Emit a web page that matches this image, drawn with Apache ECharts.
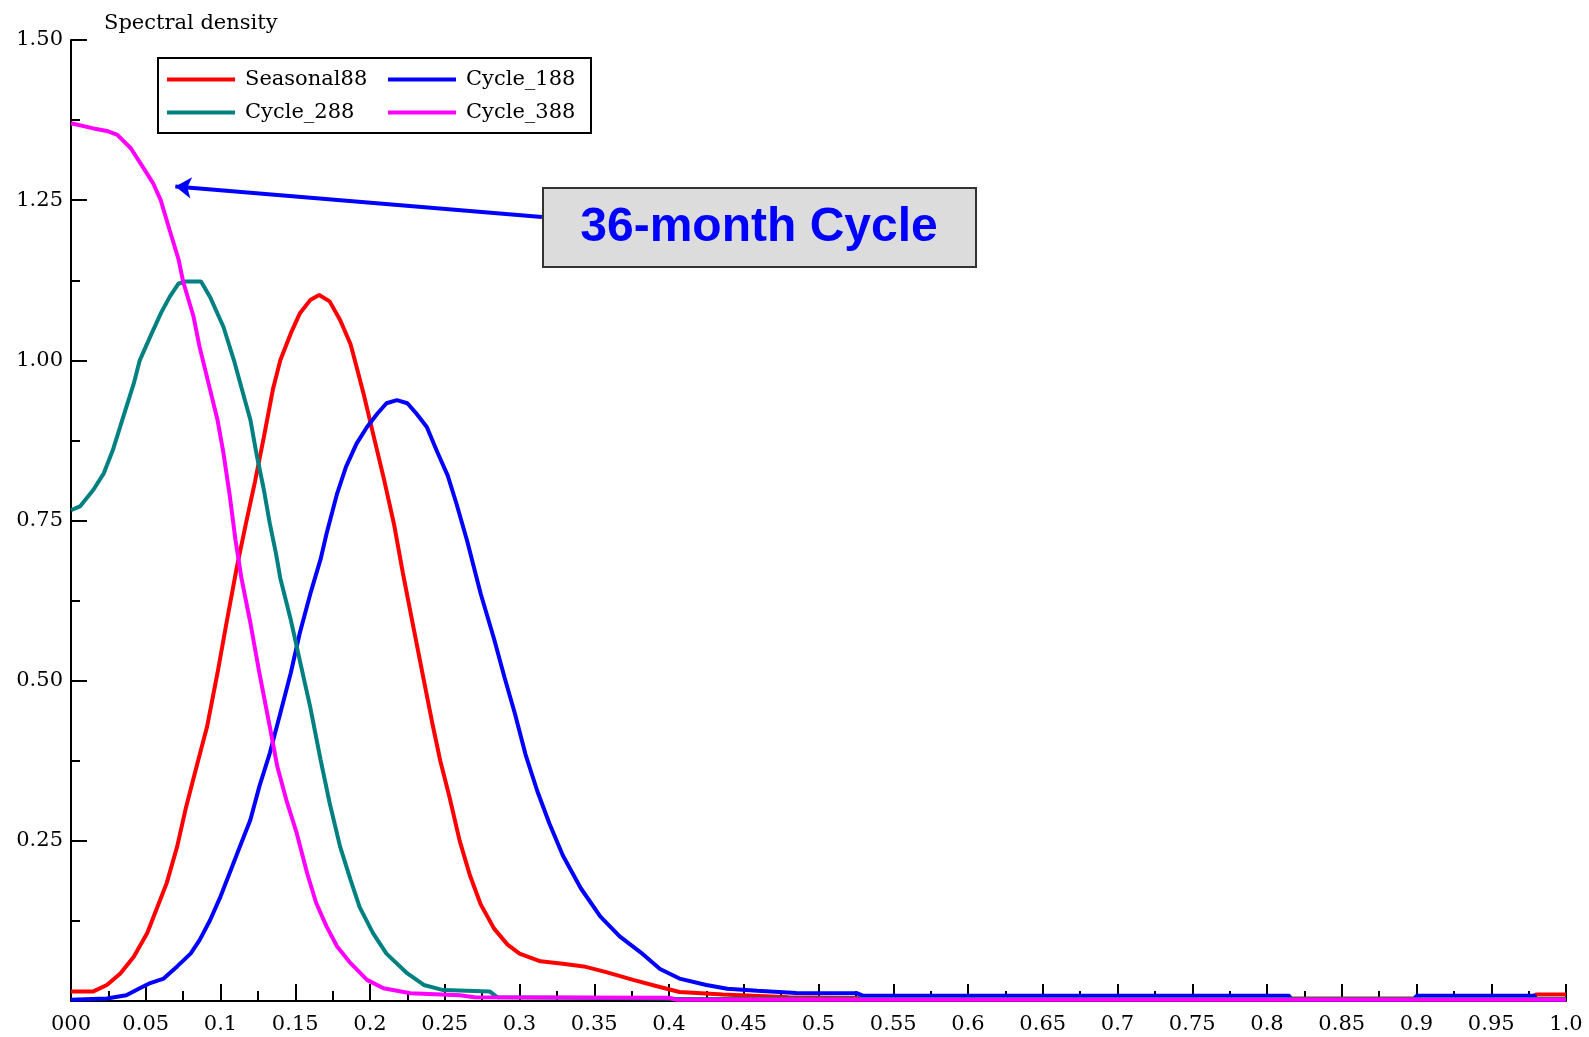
<!DOCTYPE html>
<html>
<head>
<meta charset="utf-8">
<script src="https://cdn.jsdelivr.net/npm/echarts@6/dist/echarts.min.js"></script>
<style>html,body{margin:0;padding:0;background:#fff}#c{width:1589px;height:1037px}</style>
</head>
<body>
<div id="c"></div>
<script>
var seriesNames = ['Seasonal88', 'Cycle_188', 'Cycle_288', 'Cycle_388'];
var seriesColors = ['#ff0000', '#0000ff', '#008080', '#ff00ff'];

var seasonal88 = [[0,.015],[.015,.015],[.024,.025],[.033,.043],[.042,.069],[.051,.106],[.057,.142],[.064,.184],[.071,.241],[.077,.303],[.084,.366],[.091,.428],[.098,.512],[.104,.59],[.111,.678],[.117,.745],[.123,.81],[.129,.88],[.135,.954],[.140,1.0],[.147,1.042],[.153,1.073],[.160,1.094],[.166,1.102],[.173,1.092],[.180,1.063],[.187,1.025],[.191,.99],[.196,.945],[.202,.886],[.209,.818],[.216,.745],[.222,.668],[.229,.584],[.236,.501],[.242,.43],[.247,.375],[.253,.32],[.260,.25],[.267,.195],[.274,.151],[.283,.113],[.292,.088],[.300,.074],[.314,.062],[.329,.058],[.343,.054],[.358,.045],[.376,.033],[.392,.023],[.407,.014],[.436,.01],[.48,.006],[.55,.004],[.975,.004],[.98,.01],[1,.01]];

var cycle188 = [[0,.002],[.024,.004],[.037,.009],[.046,.02],[.053,.028],[.062,.035],[.071,.054],[.08,.074],[.086,.095],[.093,.126],[.1,.163],[.106,.199],[.113,.241],[.12,.283],[.126,.335],[.133,.387],[.14,.449],[.147,.512],[.153,.574],[.16,.635],[.167,.69],[.171,.73],[.178,.792],[.184,.834],[.191,.87],[.198,.896],[.205,.917],[.211,.933],[.218,.938],[.225,.933],[.231,.917],[.238,.896],[.245,.857],[.252,.82],[.258,.775],[.265,.718],[.274,.636],[.283,.565],[.29,.505],[.297,.448],[.304,.385],[.312,.327],[.32,.277],[.329,.227],[.341,.176],[.354,.132],[.367,.101],[.381,.076],[.394,.05],[.407,.035],[.425,.025],[.439,.019],[.459,.016],[.485,.0125],[.526,.012],[.53,.008],[.815,.008],[.816,.002],[.898,.002],[.9,.008],[.979,.008],[.98,.002],[1,.002]];

var cycle288 = [[0,.766],[.006,.772],[.015,.798],[.022,.824],[.028,.86],[.035,.912],[.042,.964],[.046,1.0],[.053,1.037],[.06,1.073],[.066,1.099],[.072,1.12],[.077,1.123],[.087,1.123],[.093,1.099],[.102,1.052],[.109,1.0],[.115,.949],[.12,.907],[.124,.855],[.129,.798],[.133,.745],[.137,.7],[.14,.66],[.147,.595],[.153,.532],[.16,.459],[.167,.376],[.173,.309],[.18,.241],[.187,.189],[.193,.147],[.202,.106],[.211,.074],[.225,.043],[.236,.025],[.249,.017],[.28,.015],[.285,.006],[.4,.004],[.405,.003],[1,.003]];

var cycle388 = [[0,1.37],[.015,1.362],[.024,1.358],[.031,1.352],[.04,1.331],[.048,1.302],[.055,1.276],[.06,1.25],[.066,1.203],[.072,1.157],[.075,1.123],[.082,1.068],[.086,1.021],[.092,.964],[.098,.907],[.102,.855],[.106,.792],[.110,.72],[.114,.66],[.12,.59],[.126,.512],[.133,.428],[.138,.366],[.144,.314],[.151,.262],[.158,.199],[.164,.153],[.171,.116],[.178,.085],[.187,.059],[.198,.033],[.209,.02],[.227,.012],[.26,.009],[.27,.006],[.4,.005],[.405,.002],[1,.002]];

var seriesData = [seasonal88, cycle188, cycle288, cycle388];

var yAxisTitle = 'Spectral density';
var annotationText = '36-month Cycle';
var arrowFrom = [0.315, 1.2237];
var arrowTo = [0.0698, 1.2713];

var SERIF = 'DejaVu Serif';
var FS = 21;
var chart = echarts.init(document.getElementById('c'), null, {renderer: 'canvas'});

var series = seriesNames.map(function (n, i) {
  var s = {
    name: n, type: 'line', data: seriesData[i], symbol: 'none', smooth: false,
    lineStyle: {color: seriesColors[i], width: 4}, itemStyle: {color: seriesColors[i]},
    z: 2 + i
  };
  if (i === 3) {
    s.markLine = {
      silent: true, symbol: ['none', 'arrow'], symbolSize: 16,
      label: {show: false},
      lineStyle: {color: '#0000ff', width: 4, type: 'solid'},
      itemStyle: {color: '#0000ff'},
      data: [[{coord: arrowFrom}, {coord: arrowTo}]]
    };
  }
  return s;
});

function legendCfg(left, names) {
  return {
    left: left, top: 69, orient: 'vertical', padding: 0,
    icon: 'rect', itemWidth: 68, itemHeight: 4, itemGap: 12,
    data: names, selectedMode: false,
    textStyle: {fontFamily: SERIF, fontSize: FS, color: '#000', lineHeight: 21, padding: [0, 0, 0, 5]}
  };
}

chart.setOption({
  animation: false,
  backgroundColor: '#fff',
  grid: {left: 71, right: 23, top: 40, bottom: 36, containLabel: false},
  xAxis: {
    type: 'value', min: 0, max: 1, interval: 0.05,
    axisLine: {show: true, lineStyle: {color: '#000', width: 2}},
    axisTick: {show: true, inside: true, length: 17, lineStyle: {color: '#000', width: 2}},
    minorTick: {show: true, splitNumber: 2, length: 10, lineStyle: {color: '#000', width: 2}},
    splitLine: {show: false},
    axisLabel: {
      margin: 13, color: '#000', fontFamily: SERIF, fontSize: FS,
      formatter: function (v) {
        if (v === 0) return '000';
        if (Math.abs(v - 1) < 1e-9) return '1.0';
        return String(+v.toFixed(2));
      }
    }
  },
  yAxis: {
    type: 'value', min: 0, max: 1.5, interval: 0.25,
    axisLine: {show: true, lineStyle: {color: '#000', width: 2}},
    axisTick: {show: true, inside: true, length: 16, lineStyle: {color: '#000', width: 2}},
    minorTick: {show: true, splitNumber: 2, length: 9, lineStyle: {color: '#000', width: 2}},
    splitLine: {show: false},
    axisLabel: {
      margin: 8, color: '#000', fontFamily: SERIF, fontSize: FS,
      formatter: function (v) { return v === 0 ? '' : v.toFixed(2); }
    }
  },
  legend: [
    legendCfg(167, [seriesNames[0], seriesNames[2]]),
    legendCfg(388, [seriesNames[1], seriesNames[3]])
  ],
  graphic: [
    {type: 'rect', left: 157, top: 57, z: 1, shape: {width: 433, height: 75},
     style: {fill: '#fff', stroke: '#000', lineWidth: 2}},
    {type: 'text', left: 104, top: 13, z: 10,
     style: {text: yAxisTitle, fontFamily: SERIF, fontSize: FS, fill: '#000'}},
    {type: 'group', left: 542, top: 187, z: 20, children: [
      {type: 'rect', shape: {x: 0, y: 0, width: 433, height: 79},
       style: {fill: '#dcdcdc', stroke: '#333', lineWidth: 2}},
      {type: 'text', x: 216, y: 40,
       style: {text: annotationText, fontFamily: 'Liberation Sans, Arial, sans-serif', fontWeight: 'bold',
               fontSize: 48, fill: '#0000ff', textAlign: 'center', textVerticalAlign: 'middle'}}
    ]}
  ],
  series: series
});
</script>
</body>
</html>
